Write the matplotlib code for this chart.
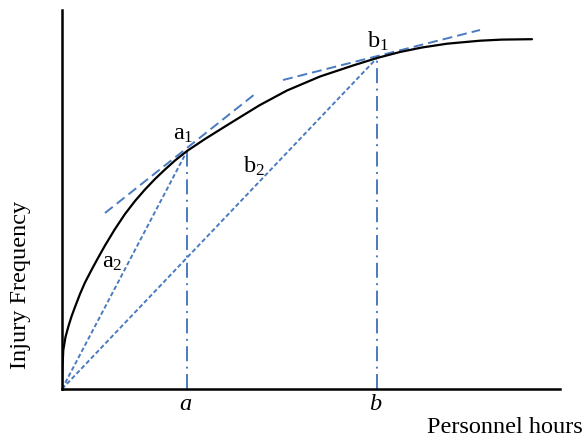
import matplotlib
matplotlib.use("Agg")
import matplotlib.pyplot as plt
from matplotlib.transforms import blended_transform_factory

plt.rcParams['font.family'] = ['Liberation Serif', 'DejaVu Serif']
plt.rcParams['mathtext.fontset'] = 'custom'
plt.rcParams['mathtext.rm'] = 'Liberation Serif'
plt.rcParams['mathtext.it'] = 'Liberation Serif:italic'

# ---- data (arbitrary units) ----
curve_x = [0, 0.4, 1.3, 3.5, 6.3, 9.5, 13, 18, 23, 30, 36, 43, 53, 63, 73, 83, 93, 103,
           113, 125, 143, 163, 180, 198, 225, 258, 291, 315, 338, 360, 385, 418, 440, 470]
curve_y = [0, 20, 39, 52, 62.3, 72.5, 82, 95, 106.5, 120, 131, 143.5, 160, 175, 188,
           199.5, 210, 219.5, 228.5, 238, 250, 262.5, 273, 284, 298.5, 312.5, 323.5,
           331, 337, 341.5, 345.3, 348.3, 349.4, 349.8]

point_a = (125, 238)   # a1
point_b = (315, 331)   # b1
origin = (0, 0)

tangent_a_x = [43, 193]
tangent_a_y = [176, 295]
tangent_b_x = [221, 418]
tangent_b_y = [309, 359]

tick_positions = [point_a[0], point_b[0]]
tick_labels = ['a', 'b']

label_a1 = (111, 249)
label_b1 = (305, 341)
label_a2 = (40, 121)
label_b2 = (181, 216)

BLUE = '#4a7bc0'
FS = 17.5

fig = plt.figure(figsize=(5.87, 4.42), dpi=100)
ax = fig.add_axes([62 / 587, 53 / 442, 498 / 587, 379 / 442])
ax.set_xlim(0, 498)
ax.set_ylim(0, 379)

for s in ['top', 'right']:
    ax.spines[s].set_visible(False)
for s in ['left', 'bottom']:
    ax.spines[s].set_linewidth(1.8)
    ax.spines[s].set_color('black')
ax.set_yticks([])
ax.set_xticks([])

lw_b = 1.4
# tangents
ax.plot(tangent_a_x, tangent_a_y, color=BLUE, lw=lw_b, dashes=(5.1, 2.6))
ax.plot(tangent_b_x, tangent_b_y, color=BLUE, lw=lw_b, dashes=(5.1, 2.6))
# chords from origin
ax.plot([origin[0], point_a[0]], [origin[1], point_a[1]], color=BLUE, lw=lw_b, dashes=(2.3, 1.3))
ax.plot([origin[0], point_b[0]], [origin[1], point_b[1]], color=BLUE, lw=lw_b, dashes=(2.3, 1.3))
# vertical dash-dot
ax.plot([point_a[0], point_a[0]], [0, point_a[1]], color=BLUE, lw=lw_b, dashes=(7.7, 2.8, 1.0, 2.8))
ax.plot([point_b[0], point_b[0]], [0, point_b[1]], color=BLUE, lw=lw_b, dashes=(7.7, 2.8, 1.0, 2.8))

# curve
ax.plot(curve_x, curve_y, color='black', lw=1.6, solid_joinstyle='round', solid_capstyle='round')

# labels
ax.text(*label_a1, r'a$_{\mathrm{1}}$', fontsize=FS, ha='left', va='baseline')
ax.text(*label_b1, r'b$_{\mathrm{1}}$', fontsize=FS, ha='left', va='baseline')
ax.text(*label_a2, r'a$_{\mathrm{2}}$', fontsize=FS, ha='left', va='baseline')
ax.text(*label_b2, r'b$_{\mathrm{2}}$', fontsize=FS, ha='left', va='baseline')

trans = blended_transform_factory(ax.transData, ax.transAxes)
for xp, lab in zip(tick_positions, tick_labels):
    ax.text(xp - 2, (389 - 410.5) / 379, lab, fontsize=FS, style='italic',
            ha='center', va='baseline', transform=trans)

fig.text(583 / 587, 1 - 433 / 442, 'Personnel hours', fontsize=FS, ha='right', va='baseline')
fig.text(21 / 587, 1 - 285 / 442, 'Injury Frequency', fontsize=FS, ha='center', va='center',
         rotation=90)

fig.savefig('out.png', dpi=100)
